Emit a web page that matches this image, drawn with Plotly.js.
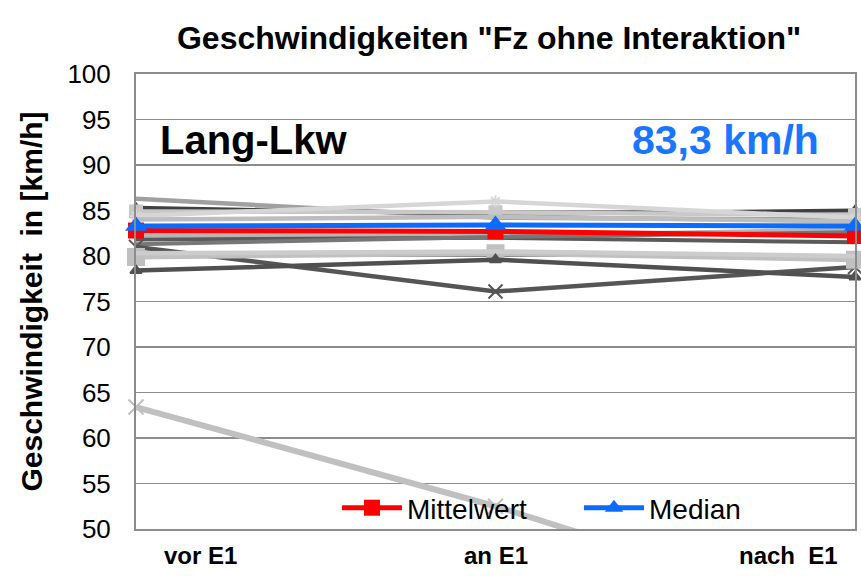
<!DOCTYPE html>
<html>
<head>
<meta charset="utf-8">
<script src="https://cdn.plot.ly/plotly-3.0.1.min.js"></script>
<style>
  html, body { margin: 0; padding: 0; background: #ffffff; }
  #chart { width: 861px; height: 576px; }
</style>
</head>
<body>
<div id="chart"></div>
<script>
// ---- data ----
const categories = ['vor E1', 'an E1', 'nach  E1'];
const mittelwert = [82.8, 82.7, 82.2];
const median = [83.3, 83.4, 83.3];

const g01 = [86.3, 84.2, 84.0];
const g02 = [85.3, 84.6, 85.0];
const g03 = [84.9, 84.8, 84.5];
const g04 = [84.4, 86.0, 84.2];
const g05 = [84.0, 84.3, 83.8];
const g06 = [82.3, 82.2, 82.9];
const g07 = [81.8, 82.0, 81.5];
const g08 = [81.3, 82.1, 82.6];
const g09 = [81.0, 76.1, 78.8];
const g10 = [79.9, 80.3, 79.6];
const g11 = [80.3, 80.5, 80.0];
const g12 = [78.4, 79.6, 77.7];
const g13 = [63.4, 52.5, 40.0];

const yTicks = [50, 55, 60, 65, 70, 75, 80, 85, 90, 95, 100];
const medianLabel = '83,3 km/h';
const groupLabel = 'Lang-Lkw';

// ---- styling of gray series ----
const grays = [
  {y: g01, c: '#a0a0a0', s: 'circle', m: 0, w: 4.5},
  {y: g02, c: '#404040', s: 'triangle-up', m: 9, w: 4},
  {y: g03, c: '#c8c8c8', s: 'square', m: 12, w: 4.5},
  {y: g04, c: '#d6d6d6', s: 'asterisk-open', m: 10, w: 4.5},
  {y: g05, c: '#bdbdbd', s: 'circle', m: 0, w: 4.5},
  {y: g06, c: '#b5b5b5', s: 'circle', m: 0, w: 4.5},
  {y: g07, c: '#5a5a5a', s: 'circle', m: 0, w: 4},
  {y: g08, c: '#777777', s: 'circle', m: 0, w: 4},
  {y: g09, c: '#555555', s: 'x-thin-open', m: 14, w: 4.5},
  {y: g10, c: '#c0c0c0', s: 'square', m: 16, w: 5},
  {y: g11, c: '#cccccc', s: 'circle', m: 0, w: 4.5},
  {y: g12, c: '#505050', s: 'triangle-up', m: 10, w: 4.5},
  {y: g13, c: '#c0c0c0', s: 'x-thin-open', m: 15, w: 6}
];

const xIdx = categories.map((_, i) => i);
const FONT = 'Liberation Sans, Arial, sans-serif';

const traces = grays.map(g => ({
  x: xIdx, y: g.y, type: 'scatter', mode: g.m ? 'lines+markers' : 'lines',
  line: {color: g.c, width: g.w},
  marker: {symbol: g.s, size: g.m, color: g.c, line: {color: g.c, width: 2}},
  showlegend: false, hoverinfo: 'skip', cliponaxis: false
}));

traces.push({
  x: xIdx, y: mittelwert, type: 'scatter', mode: 'lines+markers', name: 'Mittelwert',
  line: {color: '#ff0000', width: 5},
  marker: {symbol: 'square', size: 16, color: '#ff0000'},
  cliponaxis: false, legend: 'legend'
});
traces.push({
  x: xIdx, y: median, type: 'scatter', mode: 'lines+markers', name: 'Median',
  line: {color: '#0a6cff', width: 5},
  marker: {symbol: 'triangle-up', size: 19, color: '#0a6cff'},
  cliponaxis: false, legend: 'legend2'
});

const labelX = [200, 496, 788];
const annotations = categories.map((c, i) => ({
  xref: 'paper', yref: 'paper',
  x: (labelX[i] - 136) / 719, y: -0.058, xanchor: 'center', yanchor: 'middle',
  text: '<b>' + c + '</b>', showarrow: false,
  font: {family: FONT, size: 24, color: '#000000'}
}));
annotations.push({
  xref: 'paper', yref: 'paper', x: (158 - 136) / 719, y: (529 - 140) / 455,
  xanchor: 'left', yanchor: 'middle', text: '<b>' + groupLabel + '</b>', showarrow: false,
  font: {family: FONT, size: 40, color: '#000000'}
});
annotations.push({
  xref: 'paper', yref: 'paper', x: (821 - 136) / 719, y: (529 - 140) / 455,
  xanchor: 'right', yanchor: 'middle', text: '<b>' + medianLabel + '</b>', showarrow: false,
  font: {family: FONT, size: 41, color: '#1a75ff'}
});

const legendBase = {
  orientation: 'h', xanchor: 'left', yanchor: 'middle',
  y: (529 - 508) / 455, bgcolor: 'rgba(0,0,0,0)', itemwidth: 60,
  font: {family: FONT, size: 28, color: '#000000'}
};

const layout = {
  width: 861, height: 576,
  margin: {l: 136, r: 6, t: 74, b: 47},
  paper_bgcolor: '#ffffff', plot_bgcolor: '#ffffff',
  font: {family: FONT, color: '#000000'},
  title: {
    text: '<b>Geschwindigkeiten "Fz ohne Interaktion"</b>',
    x: 0.568, xanchor: 'center', y: 0.934, yanchor: 'middle',
    font: {family: FONT, size: 32, color: '#000000'}
  },
  xaxis: {
    range: [0, 2], showticklabels: false, showgrid: false, zeroline: false,
    showline: true, linecolor: '#8c8c8c', linewidth: 2, mirror: true, ticks: ''
  },
  yaxis: {
    range: [50, 100], tickvals: yTicks, ticktext: yTicks.map(String),
    showgrid: true, gridcolor: '#8c8c8c', gridwidth: 1.5, zeroline: false,
    showline: true, linecolor: '#8c8c8c', linewidth: 2, mirror: true, ticks: '',
    ticklabelstandoff: 18,
    tickfont: {family: FONT, size: 26, color: '#000000'},
    title: {
      text: '<b>Geschwindigkeit  in [km/h]</b>', standoff: 16,
      font: {family: FONT, size: 30, color: '#000000'}
    }
  },
  legend: Object.assign({}, legendBase, {x: (337 - 136) / 719}),
  legend2: Object.assign({}, legendBase, {x: (579 - 136) / 719}),
  annotations: annotations,
  showlegend: true
};

Plotly.newPlot('chart', traces, layout, {displayModeBar: false, staticPlot: true});
</script>
</body>
</html>
